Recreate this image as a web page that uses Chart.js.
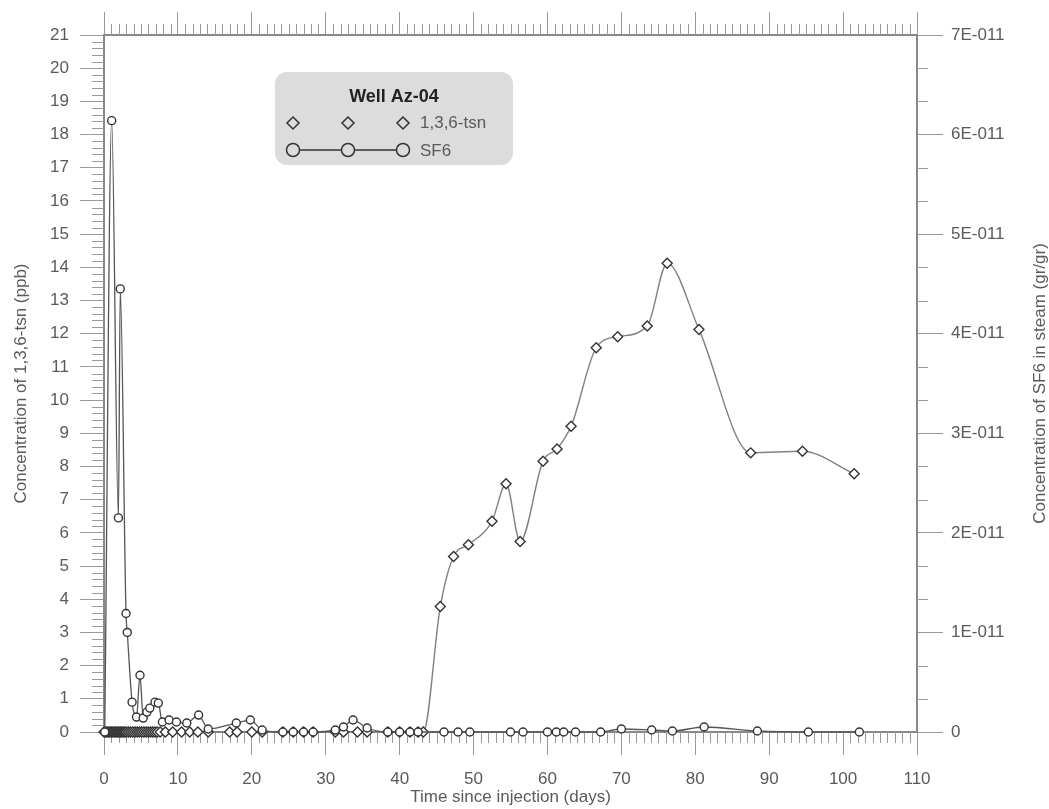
<!DOCTYPE html>
<html>
<head>
<meta charset="utf-8">
<script src="https://cdn.jsdelivr.net/npm/chart.js@4"></script>
<style>
  body { margin: 0; background: #fff; }
</style>
</head>
<body>
<canvas id="grafico" width="1049" height="809"></canvas>
<script>
// 1,3,6-tsn (ppb), left axis
const tsnDays = [0, 0.2, 0.4, 0.6, 0.8, 1.0, 1.2, 1.4, 1.6, 1.8, 2.0, 2.2, 2.4, 2.6, 2.8, 3.0, 3.3, 3.6, 3.9,
  4.2, 4.5, 4.8, 5.1, 5.4, 5.7, 6.0, 6.3, 6.6, 6.9, 7.2, 7.6, 8.3, 9.3, 10.5, 11.6, 12.7, 14.1,
  17.0, 18.0, 20.0, 21.4, 24.2, 25.6, 27.0, 28.3, 31.3, 32.4, 34.3, 35.6, 38.4, 40.0, 41.4, 42.5, 43.2,
  45.5, 47.3, 49.3, 52.5, 54.4, 56.3, 59.4, 61.3, 63.2, 66.6, 69.5, 73.5, 76.2, 80.5, 87.5, 94.5, 101.5];
const tsnValues = [0, 0, 0, 0, 0, 0, 0, 0, 0, 0, 0, 0, 0, 0, 0, 0, 0, 0, 0,
  0, 0, 0, 0, 0, 0, 0, 0, 0, 0, 0, 0, 0, 0, 0, 0, 0, 0,
  0, 0, 0, 0, 0, 0, 0, 0, 0, 0, 0, 0, 0, 0, 0, 0, 0,
  3.78, 5.29, 5.64, 6.35, 7.48, 5.74, 8.16, 8.53, 9.21, 11.58, 11.91, 12.23, 14.12, 12.13, 8.41, 8.46, 7.78];

// SF6 in steam (gr/gr), right axis
const sf6Days = [0.1, 1.04, 1.95, 2.2, 2.98, 3.15, 3.8, 4.4, 4.87, 5.3, 5.8, 6.2, 6.9, 7.35, 7.9, 8.8,
  9.8, 11.2, 12.8, 14.1, 17.9, 19.8, 21.4, 24.2, 25.6, 27.0, 28.3, 31.3, 32.4, 33.7, 35.6, 38.4, 40.0,
  41.4, 42.5, 46.0, 47.9, 49.5, 55.0, 56.7, 60.0, 61.2, 62.2, 63.8, 67.2, 70.0, 74.1, 76.9, 81.2, 88.4, 95.3, 102.2];
const sf6Values = [0, 6.14e-11, 2.15e-11, 4.45e-11, 1.19e-11, 1.0e-11, 0.30e-11, 0.15e-11, 0.57e-11, 0.14e-11,
  0.20e-11, 0.24e-11, 0.30e-11, 0.29e-11, 0.10e-11, 0.12e-11, 0.10e-11, 0.09e-11, 0.17e-11, 0.03e-11,
  0.09e-11, 0.12e-11, 0.02e-11, 0, 0, 0, 0, 0.02e-11, 0.05e-11, 0.12e-11, 0.04e-11, 0, 0,
  0, 0, 0, 0, 0, 0, 0, 0, 0, 0, 0, 0, 0.03e-11, 0.02e-11, 0.01e-11, 0.05e-11, 0.01e-11, 0, 0];

const xTicks = [0, 10, 20, 30, 40, 50, 60, 70, 80, 90, 100, 110];
const leftTicks = [0, 1, 2, 3, 4, 5, 6, 7, 8, 9, 10, 11, 12, 13, 14, 15, 16, 17, 18, 19, 20, 21];
const rightTicks = [0, 1e-11, 2e-11, 3e-11, 4e-11, 5e-11, 6e-11, 7e-11];

const fuente = "'Liberation Sans', Arial, sans-serif";
const gris = "#5a5a5a";

// marcas menores + leyenda + titulo derecho
const extras = {
  id: "extras",
  beforeDatasetsDraw(chart) {
    const ctx = chart.ctx;
    const a = chart.chartArea;
    const sx = chart.scales.x, sy = chart.scales.y, sy1 = chart.scales.y1;
    ctx.save();
    ctx.strokeStyle = "#999";
    ctx.lineWidth = 1;
    ctx.beginPath();
    for (let d = 1; d < 110; d++) {
      if (d % 10 === 0) continue;
      const px = Math.round(sx.getPixelForValue(d)) + 0.5;
      ctx.moveTo(px, a.bottom); ctx.lineTo(px, a.bottom + 11);
      ctx.moveTo(px, a.top); ctx.lineTo(px, a.top - 11);
    }
    for (let i = 1; i < 105; i++) {
      if (i % 5 === 0) continue;
      const py = Math.round(sy.getPixelForValue(i / 5)) + 0.5;
      ctx.moveTo(a.left, py); ctx.lineTo(a.left - 12, py);
    }
    for (let i = 1; i < 21; i++) {
      if (i % 3 === 0) continue;
      const py = Math.round(sy1.getPixelForValue(i * 1e-11 / 3)) + 0.5;
      ctx.moveTo(a.right, py); ctx.lineTo(a.right + 11, py);
    }
    ctx.stroke();
    ctx.restore();
  },
  afterDraw(chart) {
    const ctx = chart.ctx;
    const a = chart.chartArea;
    ctx.save();
    // titulo eje derecho
    ctx.translate(1040, (a.top + a.bottom) / 2);
    ctx.rotate(-Math.PI / 2);
    ctx.fillStyle = gris;
    ctx.font = "17px " + fuente;
    ctx.textAlign = "center";
    ctx.textBaseline = "middle";
    ctx.fillText("Concentration of SF6 in steam (gr/gr)", 0, 0);
    ctx.restore();

    // leyenda
    ctx.save();
    ctx.fillStyle = "#dcdcdc";
    ctx.beginPath();
    ctx.roundRect(275, 72, 238, 93, 12);
    ctx.fill();
    ctx.fillStyle = "#222";
    ctx.font = "bold 18px " + fuente;
    ctx.textAlign = "center";
    ctx.textBaseline = "middle";
    ctx.fillText("Well Az-04", 394, 97);
    ctx.font = "17px " + fuente;
    ctx.fillStyle = gris;
    ctx.textAlign = "left";
    ctx.fillText("1,3,6-tsn", 420, 123);
    ctx.fillText("SF6", 420, 151);
    ctx.strokeStyle = "#333";
    ctx.lineWidth = 1.5;
    ctx.beginPath();
    ctx.moveTo(293, 150); ctx.lineTo(403, 150);
    ctx.stroke();
    [293, 348, 403].forEach(cx => {
      ctx.fillStyle = "#dcdcdc";
      ctx.beginPath();
      ctx.moveTo(cx, 117); ctx.lineTo(cx + 6, 123); ctx.lineTo(cx, 129); ctx.lineTo(cx - 6, 123);
      ctx.closePath();
      ctx.fill(); ctx.stroke();
      ctx.beginPath();
      ctx.arc(cx, 150, 6.5, 0, Math.PI * 2);
      ctx.fill(); ctx.stroke();
    });
    ctx.restore();
  }
};

const ctx = document.getElementById("grafico");

new Chart(ctx, {
  type: "line",
  data: {
    datasets: [
      {
        label: "SF6",
        data: sf6Days.map((d, i) => ({ x: d, y: sf6Values[i] })),
        yAxisID: "y1",
        borderColor: "#555",
        borderWidth: 1.3,
        cubicInterpolationMode: "monotone",
        pointStyle: "circle",
        pointRadius: 4,
        pointBackgroundColor: "#fff",
        pointBorderColor: "#333",
        pointBorderWidth: 1.4,
        clip: false,
      },
      {
        label: "1,3,6-tsn",
        data: tsnDays.map((d, i) => ({ x: d, y: tsnValues[i] })),
        yAxisID: "y",
        borderColor: "#808080",
        borderWidth: 1.4,
        cubicInterpolationMode: "monotone",
        pointStyle: "rectRot",
        pointRadius: 5,
        pointBackgroundColor: "#fff",
        pointBorderColor: "#333",
        pointBorderWidth: 1.4,
        clip: false,
      },
    ],
  },
  options: {
    responsive: false,
    animation: false,
    devicePixelRatio: 1,
    layout: { padding: 0 },
    plugins: {
      legend: { display: false },
      tooltip: { enabled: false },
    },
    scales: {
      x: {
        type: "linear",
        position: "bottom",
        min: 0,
        max: 110,
        afterBuildTicks: s => { s.ticks = xTicks.map(v => ({ value: v })); },
        afterFit: s => { s.height = 77; },
        ticks: { color: gris, font: { family: fuente, size: 17 }, padding: 14, maxRotation: 0 },
        grid: { drawOnChartArea: false, tickLength: 23, color: "#999" },
        border: { color: "#888", width: 2 },
        title: {
          display: true,
          text: "Time since injection (days)",
          color: gris,
          font: { family: fuente, size: 17 },
          padding: { top: 0, bottom: 1 },
        },
      },
      x2: {
        type: "linear",
        position: "top",
        min: 0,
        max: 110,
        afterBuildTicks: s => { s.ticks = xTicks.map(v => ({ value: v })); },
        afterFit: s => { s.height = 35; },
        ticks: { callback: () => "" },
        grid: { drawOnChartArea: false, tickLength: 23, color: "#999" },
        border: { color: "#888", width: 2 },
      },
      y: {
        type: "linear",
        position: "left",
        min: 0,
        max: 21,
        afterBuildTicks: s => { s.ticks = leftTicks.map(v => ({ value: v })); },
        afterFit: s => { s.width = 104; },
        ticks: { color: gris, font: { family: fuente, size: 17 }, padding: 11 },
        grid: { drawOnChartArea: false, tickLength: 24, color: "#999" },
        border: { color: "#888", width: 2 },
        title: {
          display: true,
          text: "Concentration of 1,3,6-tsn (ppb)",
          color: gris,
          font: { family: fuente, size: 17 },
          padding: { top: 11, bottom: 0 },
        },
      },
      y1: {
        type: "linear",
        position: "right",
        min: 0,
        max: 7e-11,
        afterBuildTicks: s => { s.ticks = rightTicks.map(v => ({ value: v })); },
        afterFit: s => { s.width = 132; },
        ticks: {
          color: gris,
          font: { family: fuente, size: 17 },
          padding: 8,
          callback: v => (v === 0 ? "0" : Math.round(v / 1e-11) + "E-011"),
        },
        grid: { drawOnChartArea: false, tickLength: 26, color: "#999" },
        border: { color: "#888", width: 2 },
      },
    },
  },
  plugins: [extras],
});
</script>
</body>
</html>
